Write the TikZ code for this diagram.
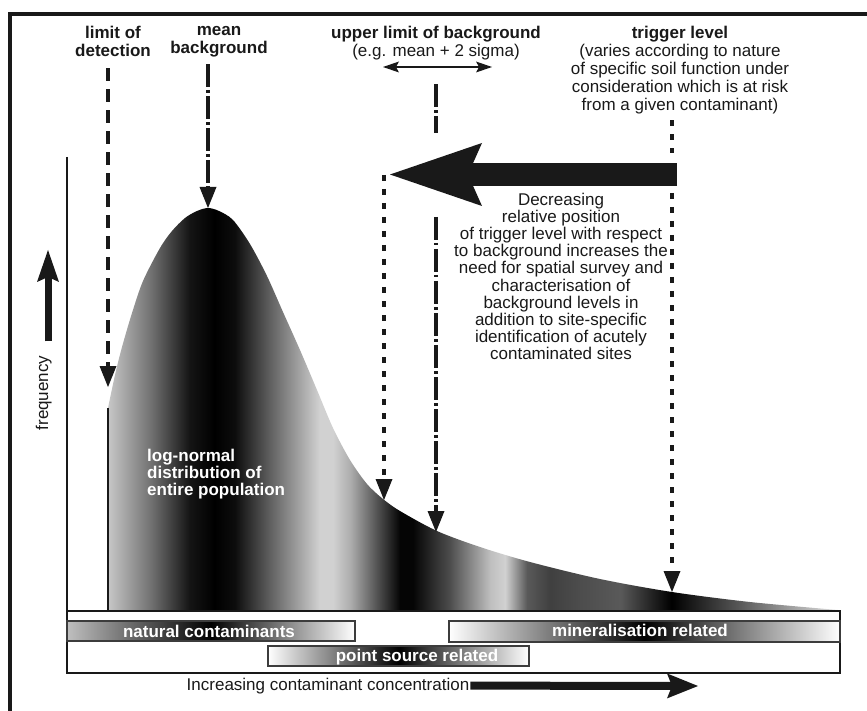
\documentclass[tikz,border=0pt]{standalone}
\usepackage{fontspec}
\setmainfont{Liberation Sans}
\usepackage{tikz}
\usetikzlibrary{arrows.meta,positioning}
% grey bands under the curve (25bp = left end of the curve, 75bp = right end)
\pgfdeclarehorizontalshading{bands}{100bp}{%
  color(0bp)=(black!22); color(25bp)=(black!22); color(27.9bp)=(black!55);
  color(30.6bp)=(black!92); color(32.3bp)=(black); color(33.7bp)=(black!95);
  color(35.9bp)=(black!65); color(38.2bp)=(black!35); color(39.5bp)=(black!18);
  color(40.4bp)=(black!18); color(41.6bp)=(black!32); color(43.8bp)=(black!75);
  color(45bp)=(black!98); color(45.9bp)=(black!98); color(48.4bp)=(black!70);
  color(51.2bp)=(black!25); color(52.2bp)=(black!18); color(53.7bp)=(black!65);
  color(55.3bp)=(black!75); color(57.3bp)=(black!70); color(60.1bp)=(black!65);
  color(62.1bp)=(black!85); color(63.6bp)=(black); color(68.3bp)=(black!65);
  color(75bp)=(black!12); color(100bp)=(black!12)}
\definecolor{ink}{gray}{0.1}

\begin{document}
\begin{tikzpicture}[x=1pt,y=-1pt,% coordinates are pixels of the original, y downwards
    every node/.style={
      align=center,   % use this so that the "\\" for line break works
      inner sep=0pt,
      text=ink,
      font=\fontsize{17}{18}\selectfont
    },
    every edge/.style={draw,ink},
    lbl/.style={execute at begin node=\strut,execute at end node=\strut},
    hd/.style={lbl,font=\fontsize{17}{18}\selectfont\bfseries},
    barlbl/.style={anchor=base,text=white,font=\fontsize{17}{18}\selectfont\bfseries},
    bar/.style={draw=ink!85,line width=1.5pt},
    pointer/.style={line width=4.5pt,-{Triangle[length=21pt,width=17pt,line width=0pt]}},
    dashln/.style={pointer,dash pattern=on 13pt off 8pt},
    dashdot/.style={pointer,dash pattern=on 23pt off 3pt on 2.5pt off 3.5pt},
    dotln/.style={pointer,dash pattern=on 6pt off 8pt}
  ]
  \useasboundingbox (0,0) rectangle (867,711);
  \draw[line width=4pt,ink] (10,730) -- (10,14.5) -- (880,14.5); % frame, cut off right and below

  % log-normal curve
  \shade[shading=bands] (108,611) -- plot[smooth,tension=0.5] coordinates {
      (108,408) (115,375) (122,347) (132,313) (143,281) (160,248) (172,231) (185,218)
      (197,211) (208,208) (219,211) (233,220) (250,244) (267,276) (283,312) (300,350)
      (317,390) (333,428) (350,460) (367,484) (383,499) (400,511) (437,531) (480,547)
      (530,562) (600,579) (672,592) (750,602) (838,610)} -- (838,611) -- cycle;
  \draw[ink,line width=1.5pt] (108,408) -- (108,611);
  \draw[ink,line width=2.5pt] (67,157) -- (67,611);
  \draw[ink,line width=2pt] (67,611) rectangle (840,673);

  % source bands
  \shadedraw[bar,left color=black!25,right color=white,middle color=black] (67,621) rectangle (355,641);
  \shadedraw[bar,left color=white,right color=white,middle color=black] (268,646) rectangle (529,666);
  \shadedraw[bar,left color=white,right color=white,middle color=black] (449,621) rectangle (840,642);
  \node[barlbl] (Nat) at (209,637) {natural contaminants};
  \node[barlbl] (Pts) at (417,661) {point source related};
  \node[barlbl] (Min) at (640,636) {mineralisation related};

  % labels
  \node[hd,anchor=north] (Det) at (113,26.4) {limit of\\detection};
  \node[hd,anchor=north] (Mean) at (219,26.4) {mean\\background};
  \node[lbl,anchor=north] (Upl) at (436,26.4) {\textbf{upper limit of background}\\(e.g. mean + 2 sigma)};
  \node[lbl,anchor=north] (Trig) at (680,26.4) {\textbf{trigger level}\\(varies according to nature\\of specific soil function under\\consideration which is at risk\\from a given contaminant)};
  \node[lbl,anchor=north,font=\fontsize{17}{17.1}\selectfont] (Decr) at (561,193) {Decreasing\\relative position\\of trigger level with respect\\to background increases the\\need for spatial survey and\\characterisation of\\background levels in\\addition to site-specific\\identification of acutely\\contaminated sites};
  \node[lbl,anchor=north west,align=left,text=white,font=\fontsize{17}{17}\selectfont\bfseries] (Pop) at (147,449) {log-normal\\distribution of\\entire population};
  \node[rotate=90,anchor=base] (Freq) at (48,393) {frequency};
  \node[anchor=base] (Incr) at (328,690) {Increasing contaminant concentration};

  % ends of the connectors
  \coordinate (DetTip) at (108,387);
  \coordinate (MeanTip) at (208,208);
  \coordinate (UplGap1) at (436,133);
  \coordinate (UplGap2) at (436,217);
  \coordinate (UplTip) at (436,532);
  \coordinate (BgTop) at (384,175);
  \coordinate (BgTip) at (384,500);
  \coordinate (TrigGap1) at (672,153);
  \coordinate (TrigGap2) at (672,193);
  \coordinate (TrigTip) at (672,592);
  \coordinate (ShiftTail) at (677,174.5);
  \coordinate (ShiftTip) at (390,174.5);
  \coordinate (SpreadL) at (383,67);
  \coordinate (SpreadR) at (492,67);
  \coordinate (FreqTip) at (48,250);
  \coordinate (IncrTip) at (698,686);

  \path
  (Det.south -| DetTip) edge[dashln,shorten <=5.6pt] (DetTip)
  (Mean.south -| MeanTip) edge[dashdot,shorten <=5pt] (MeanTip)
  (Upl.south -| UplTip) edge[dashdot,-,shorten <=21.6pt] (UplGap1)
  (UplGap2) edge[dashdot] (UplTip)
  (Trig.south -| TrigTip) edge[dotln,-,shorten <=3.6pt] (TrigGap1)
  (TrigGap2) edge[dotln] (TrigTip)
  (BgTop) edge[dotln] (BgTip)
  (ShiftTail) edge[line width=23pt,-{Stealth[length=92pt,width=63pt,inset=14pt,line width=0pt]}] (ShiftTip)
  (SpreadL) edge[line width=2.5pt,{Stealth[length=16pt,width=11pt,inset=3pt,line width=0pt]}-{Stealth[length=16pt,width=11pt,inset=3pt,line width=0pt]}] (SpreadR)
  (Freq.east -| FreqTip) edge[line width=7pt,-{Stealth[length=32pt,width=22pt,inset=5pt,line width=0pt]},shorten <=14pt] (FreqTip)
  (Incr.east) edge[line width=8pt,-{Stealth[length=31pt,width=25pt,inset=5pt,line width=0pt]},shorten <=1pt] (IncrTip)
  ;
\end{tikzpicture}
\end{document}
